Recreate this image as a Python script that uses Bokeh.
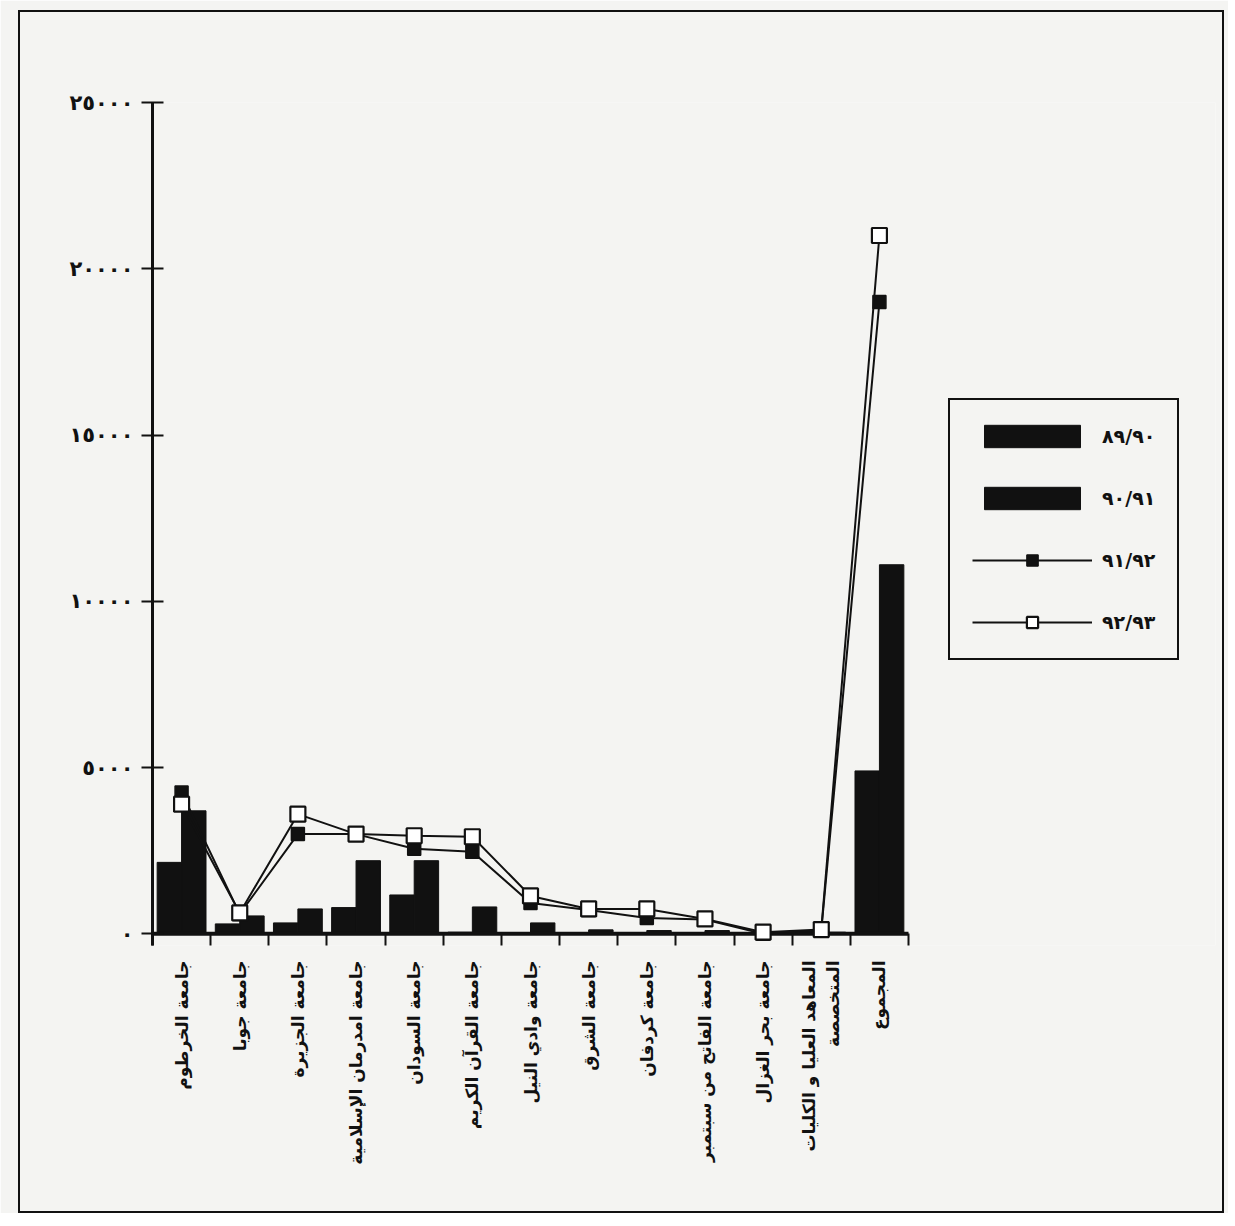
import math
from bokeh.plotting import figure
from bokeh.models import (Range1d, FixedTicker, Legend, LegendItem, ColumnDataSource,
                          InlineStyleSheet)
from bokeh.transform import dodge
from bokeh.embed import file_html
from bokeh.resources import INLINE

categories = [
    "جامعة الخرطوم",
    "جامعة جوبا",
    "جامعة الجزيرة",
    "جامعة امدرمان الإسلامية",
    "جامعة السودان",
    "جامعة القرآن الكريم",
    "جامعة وادي النيل",
    "جامعة الشرق",
    "جامعة كردفان",
    "جامعة الفاتح من سبتمبر",
    "جامعة بحر الغزال",
    "المعاهد العليا و الكليات\nالمتخصصة",
    "المجموع",
]
seasons = ["٨٩/٩٠", "٩٠/٩١", "٩١/٩٢", "٩٢/٩٣"]

v_89_90 = [2150, 300, 330, 790, 1170, 50, 30, 20, 20, 20, 0, 100, 4900]
v_90_91 = [3700, 540, 750, 2200, 2200, 810, 330, 120, 100, 100, 20, 50, 11100]
v_91_92 = [4250, 600, 3000, 3000, 2560, 2470, 930, 720, 480, 430, 0, 100, 19000]
v_92_93 = [3900, 630, 3600, 3000, 2950, 2920, 1140, 750, 750, 450, 50, 130, 21000]

y_ticks = [0, 5000, 10000, 15000, 20000, 25000]
y_tick_labels = ["٠", "٥٠٠٠", "١٠٠٠٠", "١٥٠٠٠", "٢٠٠٠٠", "٢٥٠٠٠"]

n = len(categories)
centres = [i + 0.5 for i in range(n)]
bounds = list(range(n + 1))

src = ColumnDataSource(dict(x=centres, a=v_89_90, b=v_90_91, c=v_91_92, d=v_92_93))

BG = "#f4f4f2"
INK = "#111111"
FONT = "DejaVu Sans"

AXIS_PX = 756          # pixel length of the category axis
FRAME_W = 1063         # frame also hosts the legend on the right
x_end = n * FRAME_W / AXIS_PX

p = figure(
    frame_width=FRAME_W, frame_height=843,
    min_border_left=152, min_border_right=13, min_border_top=102, min_border_bottom=268,
    x_range=Range1d(0, x_end), y_range=Range1d(-350, 25000),
    output_backend="svg", toolbar_location=None,
    background_fill_color=BG, border_fill_color=BG,
)
p.stylesheets = [InlineStyleSheet(css="""
:host { position: relative; }
:host::after {
  content: ""; position: absolute; left: 18px; top: 10px; right: 4px; bottom: 0px;
  border: 2px solid #111; pointer-events: none; z-index: 100;
}
""")]
p.outline_line_color = None
p.xgrid.visible = False
p.ygrid.visible = False

bar_a = p.vbar(x=dodge("x", -0.21), width=0.42, top="a", bottom=0, source=src,
               fill_color=INK, line_color=INK)
bar_b = p.vbar(x=dodge("x", 0.21), width=0.42, top="b", bottom=0, source=src,
               fill_color=INK, line_color=INK)

# category axis baseline at zero
p.segment(x0=[0], y0=[0], x1=[n], y1=[0], line_color=INK, line_width=4)

line_c = p.line("x", "c", source=src, line_color=INK, line_width=2)
sc_c = p.scatter("x", "c", source=src, marker="square", size=13,
                 fill_color=INK, line_color=INK, line_width=1.5)
line_d = p.line("x", "d", source=src, line_color=INK, line_width=2)
sc_d = p.scatter("x", "d", source=src, marker="square", size=15,
                 fill_color="white", line_color=INK, line_width=2.2)

# x axis
xa = p.xaxis[0]
xa.ticker = FixedTicker(ticks=centres, minor_ticks=bounds)
xa.major_label_overrides = {c: lab for c, lab in zip(centres, categories)}
xa.major_label_orientation = math.pi / 2
xa.major_tick_in = 0
xa.major_tick_out = 0
xa.minor_tick_in = 12
xa.minor_tick_out = 0
xa.minor_tick_line_width = 2
xa.minor_tick_line_color = INK
xa.axis_line_color = None
xa.major_label_standoff = 15
xa.major_label_text_font = FONT
xa.major_label_text_font_style = "bold"
xa.major_label_text_font_size = "17px"
xa.major_label_text_color = INK

# y axis
ya = p.yaxis[0]
ya.ticker = FixedTicker(ticks=y_ticks)
ya.major_label_overrides = {t: lab for t, lab in zip(y_ticks, y_tick_labels)}
ya.major_tick_in = 11
ya.major_tick_out = 11
ya.minor_tick_in = 0
ya.minor_tick_out = 0
ya.major_tick_line_width = 2
ya.major_tick_line_color = INK
ya.axis_line_width = 3
ya.axis_line_color = INK
ya.major_label_standoff = 8
ya.major_label_text_font = FONT
ya.major_label_text_font_style = "bold"
ya.major_label_text_font_size = "21px"
ya.major_label_text_color = INK

legend = Legend(
    items=[
        LegendItem(label=seasons[0], renderers=[bar_a]),
        LegendItem(label=seasons[1], renderers=[bar_b]),
        LegendItem(label=seasons[2], renderers=[line_c, sc_c]),
        LegendItem(label=seasons[3], renderers=[line_d, sc_d]),
    ],
    location=(796, 285),
    padding=22,
    spacing=34,
    glyph_width=120,
    glyph_height=28,
    label_height=28,
    label_standoff=10,
    label_text_font=FONT,
    label_text_font_style="bold",
    label_text_font_size="19px",
    label_text_color=INK,
    border_line_color=INK,
    border_line_width=2,
    border_line_alpha=1.0,
    background_fill_color=BG,
    background_fill_alpha=1,
)
p.add_layout(legend)

open("out.html", "w").write(file_html(p, INLINE))
